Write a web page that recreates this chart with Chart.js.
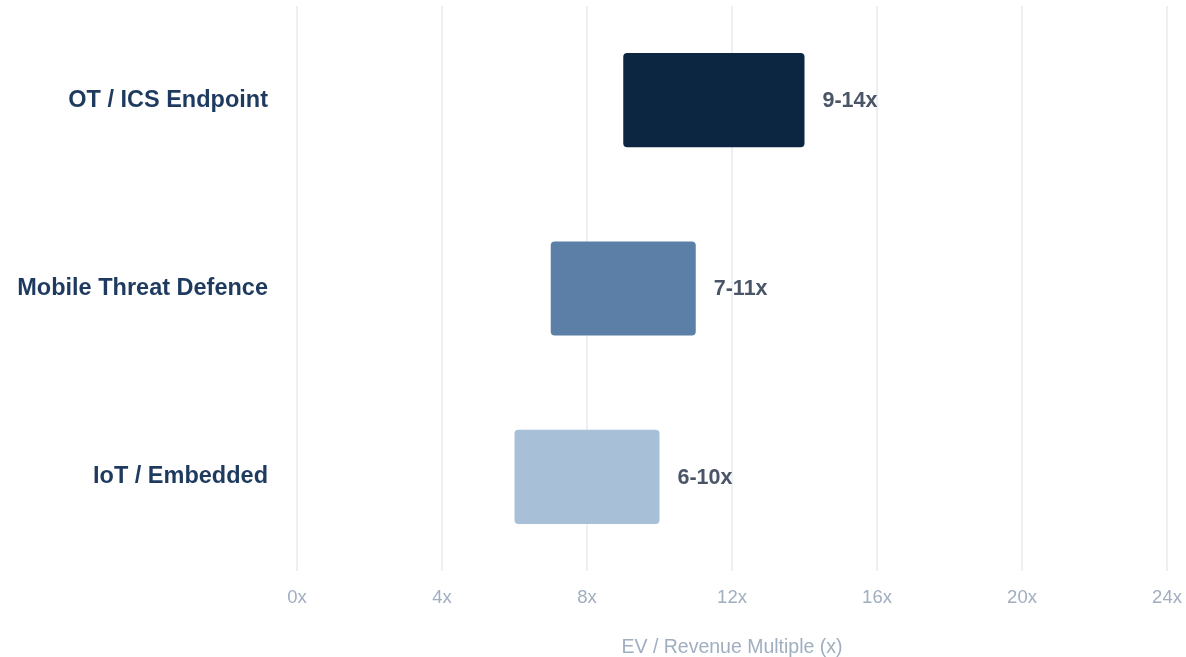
<!DOCTYPE html>
<html>
<head>
<meta charset="utf-8">
<script src="https://cdn.jsdelivr.net/npm/chart.js@4/dist/chart.umd.min.js"></script>
<style>
    html, body { margin: 0; padding: 0; background: #ffffff; overflow: hidden; }
    canvas { display: block; }
</style>
</head>
<body>
<canvas id="multiplesChart" width="1186" height="657"></canvas>
<script>
const categories = ['OT / ICS Endpoint', 'Mobile Threat Defence', 'IoT / Embedded'];
const lowMultiples = [9, 7, 6];
const highMultiples = [14, 11, 10];
const rangeLabels = ['9-14x', '7-11x', '6-10x'];
const barColors = ['#0c2641', '#5b7fa6', '#a8bfd8'];
const axisTitle = 'EV / Revenue Multiple (x)';

const fontFamily = "'Liberation Sans', Arial, Helvetica, sans-serif";

// draws the "9-14x" text to the right of each bar
const rangeLabelPlugin = {
    id: 'rangeLabels',
    afterDatasetsDraw(chart) {
        const ctx = chart.ctx;
        const meta = chart.getDatasetMeta(0);
        ctx.save();
        ctx.font = `bold 21.5px ${fontFamily}`;
        ctx.fillStyle = '#4a5568';
        ctx.textAlign = 'left';
        ctx.textBaseline = 'middle';
        meta.data.forEach((bar, i) => {
            ctx.fillText(rangeLabels[i], bar.x + 18, bar.y + 1);
        });
        ctx.restore();
    }
};

const ctx = document.getElementById('multiplesChart').getContext('2d');
new Chart(ctx, {
    type: 'bar',
    data: {
        labels: categories,
        datasets: [{
            data: categories.map((c, i) => [lowMultiples[i], highMultiples[i]]),
            backgroundColor: barColors,
            borderRadius: 4,
            borderSkipped: false,
            categoryPercentage: 1,
            barPercentage: 0.5
        }]
    },
    options: {
        indexAxis: 'y',
        responsive: false,
        animation: false,
        layout: { padding: { top: 6, right: 19, left: 0, bottom: 0 } },
        plugins: {
            legend: { display: false },
            tooltip: { enabled: false }
        },
        scales: {
            x: {
                min: 0,
                max: 24,
                ticks: {
                    stepSize: 4,
                    padding: 16,
                    color: '#a0aec0',
                    font: { family: fontFamily, size: 18.5 },
                    callback: v => v + 'x'
                },
                grid: { color: '#edf0f3', lineWidth: 2, drawTicks: false },
                border: { display: false },
                title: {
                    display: true,
                    text: axisTitle,
                    color: '#a0aec0',
                    font: { family: fontFamily, size: 19.5 },
                    padding: { top: 25, bottom: -2 }
                },
                afterFit(scale) {
                    scale.height = 86;
                    scale.paddingLeft = 0;
                    scale.paddingRight = 0;
                }
            },
            y: {
                ticks: {
                    padding: 29,
                    color: '#1e3a5f',
                    font: { family: fontFamily, size: 23.5, weight: 'bold' }
                },
                grid: { display: false, drawTicks: false },
                border: { display: false },
                afterFit(scale) {
                    scale.width = 297;
                    scale.paddingTop = 0;
                    scale.paddingBottom = 0;
                }
            }
        }
    },
    plugins: [rangeLabelPlugin]
});
</script>
</body>
</html>
